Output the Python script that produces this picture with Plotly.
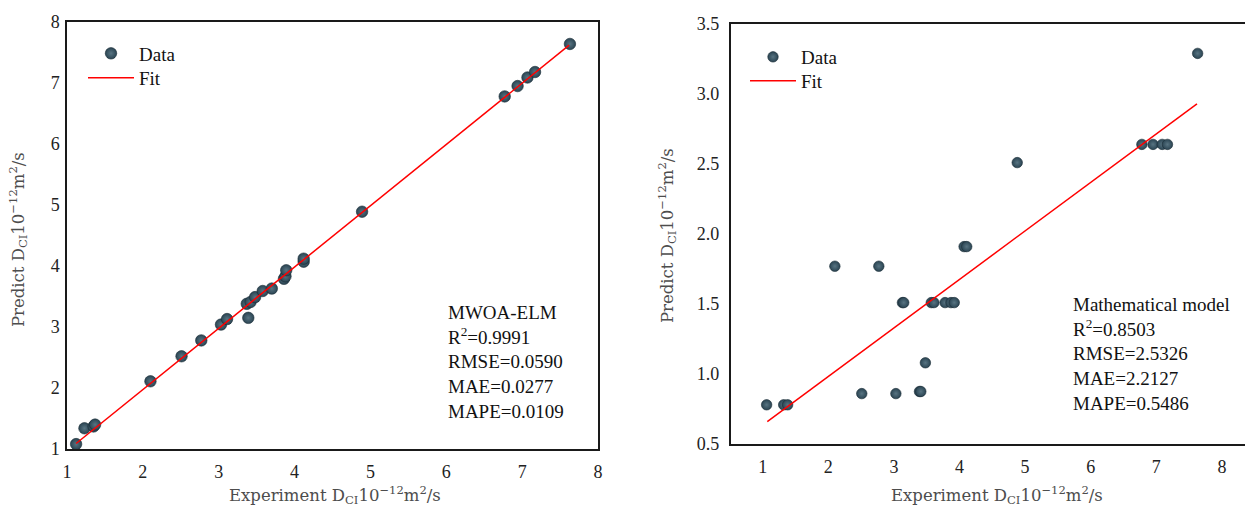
import plotly.graph_objects as go

# ---------------- data ----------------
mwoa_exp = [1.12, 1.23, 1.35, 1.37, 2.10, 2.51, 2.77, 3.03, 3.11, 3.39, 3.37, 3.42, 3.48,
            3.58, 3.70, 3.86, 3.88, 3.89, 4.12, 4.12, 4.89, 6.77, 6.94, 7.07, 7.17, 7.63]
mwoa_pred = [1.08, 1.34, 1.37, 1.40, 2.11, 2.52, 2.78, 3.04, 3.13, 3.15, 3.38, 3.41, 3.49,
             3.59, 3.63, 3.79, 3.83, 3.93, 4.07, 4.12, 4.89, 6.78, 6.95, 7.09, 7.18, 7.64]
mwoa_fit_x = [1.12, 7.62]
mwoa_fit_y = [1.09, 7.62]

math_exp = [1.06, 1.32, 1.38, 2.10, 2.51, 2.77, 3.03, 3.13, 3.15, 3.39, 3.41, 3.48, 3.57,
            3.61, 3.78, 3.87, 3.92, 4.07, 4.11, 4.88, 6.78, 6.95, 7.09, 7.17, 7.63]
math_pred = [0.78, 0.78, 0.78, 1.77, 0.86, 1.77, 0.86, 1.51, 1.51, 0.875, 0.875, 1.08, 1.51,
             1.51, 1.51, 1.51, 1.51, 1.91, 1.91, 2.51, 2.64, 2.64, 2.64, 2.64, 3.29]
math_fit_x = [1.07, 7.62]
math_fit_y = [0.66, 2.93]

left_ticks = [1, 2, 3, 4, 5, 6, 7, 8]
right_yticks = [0.5, 1.0, 1.5, 2.0, 2.5, 3.0, 3.5]
right_xticks = [1, 2, 3, 4, 5, 6, 7, 8]

left_stats = "MWOA-ELM<br>R<sup>2</sup>=0.9991<br>RMSE=0.0590<br>MAE=0.0277<br>MAPE=0.0109"
right_stats = "Mathematical model<br>R<sup>2</sup>=0.8503<br>RMSE=2.5326<br>MAE=2.2127<br>MAPE=0.5486"
x_title = "Experiment D<sub>CI</sub>10<sup>\u221212</sup>m<sup>2</sup>/s"
y_title = "Predict D<sub>CI</sub>10<sup>\u221212</sup>m<sup>2</sup>/s"

# ---------------- layout constants ----------------
W, H = 1245, 509
SERIF = "Liberation Serif, Times New Roman, serif"
TITLE_FONT = dict(family="DejaVu Serif, serif", size=16.5, color="#4d4d4d")
BALL = "#2a4452"

def px_x(p):
    return p / W

def px_y(p):
    return 1 - p / H

marker_style = dict(color=BALL, line=dict(color="#1a2c36", width=0.6),
                    gradient=dict(type="radial", color="#587482"))

fig = go.Figure()

fig.add_trace(go.Scatter(x=mwoa_exp, y=mwoa_pred, mode="markers", name="Data",
                         marker=dict(size=11.5, **marker_style), showlegend=True,
                         xaxis="x", yaxis="y", legend="legend"))
fig.add_trace(go.Scatter(x=mwoa_fit_x, y=mwoa_fit_y, mode="lines", name="Fit",
                         line=dict(color="#ff0000", width=1.5), showlegend=True,
                         xaxis="x", yaxis="y", legend="legend2"))
fig.add_trace(go.Scatter(x=math_exp, y=math_pred, mode="markers", name="Data",
                         marker=dict(size=10.5, **marker_style), showlegend=True,
                         xaxis="x2", yaxis="y2", legend="legend3"))
fig.add_trace(go.Scatter(x=math_fit_x, y=math_fit_y, mode="lines", name="Fit",
                         line=dict(color="#ff0000", width=1.5), showlegend=True,
                         xaxis="x2", yaxis="y2", legend="legend4"))

tick_font = dict(family=SERIF, size=18, color="#222222")
axis_common = dict(showgrid=False, zeroline=False, ticks="", tickfont=tick_font,
                   showline=True, linecolor="#1a1a1a", linewidth=1.5, automargin=False)

# right panel x range extends past the window edge (its right spine is cropped)
r_left, r_one, r_unit = 730.7, 762.7, 65.6
r_xmin = 1 - (r_one - r_left) / r_unit
r_xmax = 1 + (W - r_one) / r_unit


def legend_at(left_px, top_px):
    return dict(x=px_x(left_px), y=px_y(top_px), xanchor="left", yanchor="top",
                bgcolor="rgba(0,0,0,0)", font=dict(family=SERIF, size=19, color="#111111"),
                itemwidth=46, visible=True)


fig.update_layout(
    width=W, height=H,
    showlegend=True,
    margin=dict(l=0, r=0, t=0, b=0, pad=0, autoexpand=False),
    paper_bgcolor="white", plot_bgcolor="white",
    font=dict(family=SERIF, color="#111111"),
    xaxis=dict(domain=[px_x(67), px_x(598)], range=[1, 8], tickvals=left_ticks,
               anchor="y", mirror=True, ticklabelstandoff=6, **axis_common),
    yaxis=dict(domain=[px_y(449), px_y(22)], range=[1, 8], tickvals=left_ticks,
               anchor="x", mirror=True, ticklabelstandoff=2, **axis_common),
    xaxis2=dict(domain=[px_x(r_left), 1.0], range=[r_xmin, r_xmax], tickvals=right_xticks,
                anchor="y2", mirror=True, ticklabelstandoff=6, **axis_common),
    yaxis2=dict(domain=[px_y(444), px_y(24)], range=[0.5, 3.5], tickvals=right_yticks,
                tickformat=".1f", anchor="x2", mirror=False, ticklabelstandoff=6, **axis_common),
    legend=legend_at(83, 34.5),
    legend2=legend_at(83, 59),
    legend3=legend_at(745, 38),
    legend4=legend_at(745, 62),
    annotations=[
        dict(text=left_stats, x=5.99, y=2.43, xref="x", yref="y", xanchor="left",
             yanchor="middle", align="left", showarrow=False,
             font=dict(family=SERIF, size=19, color="#111111")),
        dict(text=right_stats, x=5.695, y=1.14, xref="x2", yref="y2", xanchor="left",
             yanchor="middle", align="left", showarrow=False,
             font=dict(family=SERIF, size=19, color="#111111")),
        dict(text=x_title, x=px_x(335), y=px_y(495), xref="paper", yref="paper",
             xanchor="center", yanchor="middle", showarrow=False, font=TITLE_FONT),
        dict(text=x_title, x=px_x(997), y=px_y(495), xref="paper", yref="paper",
             xanchor="center", yanchor="middle", showarrow=False, font=TITLE_FONT),
        dict(text=y_title, x=px_x(18), y=px_y(240), xref="paper", yref="paper",
             xanchor="center", yanchor="middle", textangle=-90, showarrow=False, font=TITLE_FONT),
        dict(text=y_title, x=px_x(667), y=px_y(236), xref="paper", yref="paper",
             xanchor="center", yanchor="middle", textangle=-90, showarrow=False, font=TITLE_FONT),
    ],
)

fig.write_html("out.html")
